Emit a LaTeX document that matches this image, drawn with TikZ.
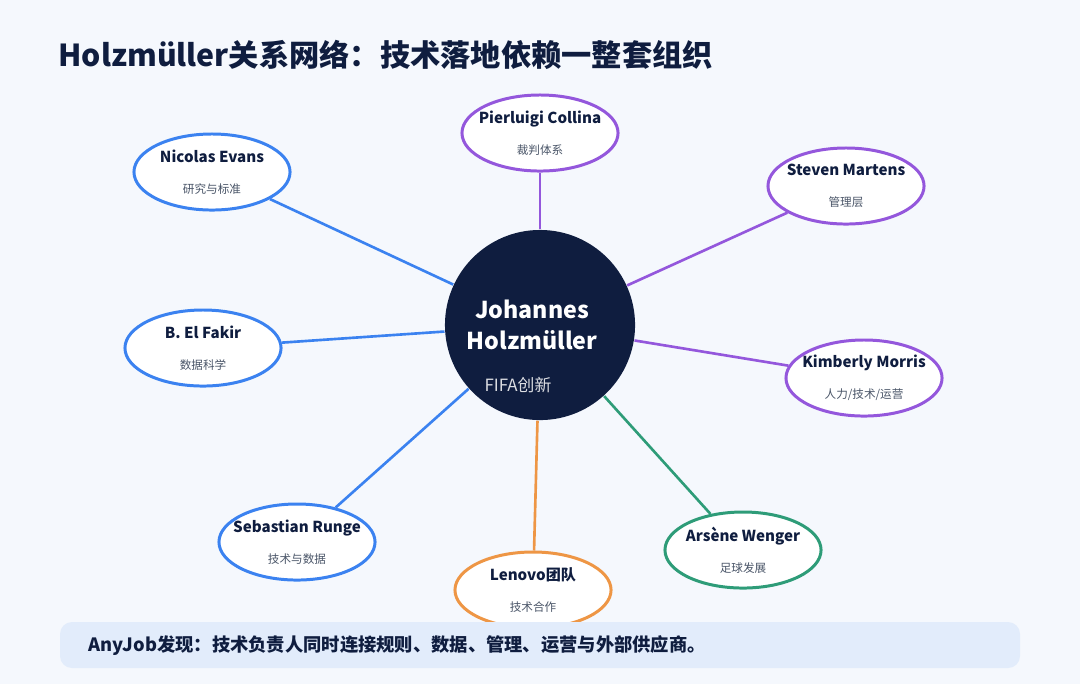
\documentclass[tikz,border=0pt]{standalone}
\usepackage{fontspec}
\setmainfont{Noto Sans CJK SC}
\usetikzlibrary{positioning,shapes.geometric,calc}
\definecolor{navy}{HTML}{0F1D3F}
\definecolor{bluee}{HTML}{3B82F0}
\definecolor{purp}{HTML}{9457DC}
\definecolor{grn}{HTML}{2E9C78}
\definecolor{orng}{HTML}{EE9645}
\definecolor{bg}{HTML}{F5F8FD}
\definecolor{bar}{HTML}{E2ECFB}
\definecolor{sub}{HTML}{4A5568}
\tikzset{
  person/.style={ellipse,draw=#1,line width=.85pt,fill=white,minimum width=1.56cm,minimum height=.76cm,align=center,inner xsep=-6pt,inner ysep=-1pt},
  link/.style={draw=#1,line width=.75pt},
}
\newcommand{\who}[2]{{\fontsize{4.3pt}{5pt}\selectfont\bfseries\color{navy}#1}\\[-3.2pt]{\fontsize{3.3pt}{4pt}\selectfont\color{sub}#2}}
\begin{document}
\begin{tikzpicture}[x=0.01cm,y=-0.01cm]
\fill[bg] (0,0) rectangle (1080,684);
\useasboundingbox (0,0) rectangle (1080,684);
\node[anchor=west,text=navy,font=\fontsize{8.6pt}{10pt}\selectfont\bfseries] (title) at (46,55) {Holzmüller关系网络：技术落地依赖一整套组织};
% centre
\node[circle,fill=navy,minimum size=1.9cm,inner sep=0pt] (hub) at (540,325) {};
\node[text=white,font=\fontsize{6.6pt}{8pt}\selectfont\bfseries,align=center] (hubname) at (532,325) {Johannes\\[1pt]Holzmüller};
\node[text=white!85!navy,font=\fontsize{4.8pt}{6pt}\selectfont] (hubrole) at (518,385) {FIFA创新};
% people
\node[person=purp] (collina) at (540,133) {\who{Pierluigi Collina}{裁判体系}};
\node[person=bluee] (evans) at (212,172) {\who{Nicolas Evans}{研究与标准}};
\node[person=purp] (martens) at (846,186) {\who{Steven Martens}{管理层}};
\node[person=bluee] (fakir) at (203,348) {\who{B. El Fakir}{数据科学}};
\node[person=purp] (morris) at (864,378) {\who{Kimberly Morris}{人力/技术/运营}};
\node[person=bluee] (runge) at (297,542) {\who{Sebastian Runge}{技术与数据}};
\node[person=grn] (wenger) at (743,550) {\who{Arsène Wenger}{足球发展}};
\node[person=orng] (lenovo) at (533,590) {\who{Lenovo团队}{技术合作}};
% links
\path[link=purp] (hub) -- (collina);
\path[link=bluee] (hub) -- (evans);
\path[link=purp] (hub) -- (martens);
\path[link=bluee] (hub) -- (fakir);
\path[link=purp] (hub) -- (morris);
\path[link=bluee] (hub) -- (runge);
\path[link=grn] (hub) -- (wenger);
\path[link=orng] (hub) -- (lenovo);
% note
\fill[bar,rounded corners=0.12cm] (60,622) rectangle (1020,668);
\node[anchor=west,text=navy,font=\fontsize{5.2pt}{6pt}\selectfont\bfseries] (note) at (76,646) {AnyJob发现：技术负责人同时连接规则、数据、管理、运营与外部供应商。};
\end{tikzpicture}
\end{document}
